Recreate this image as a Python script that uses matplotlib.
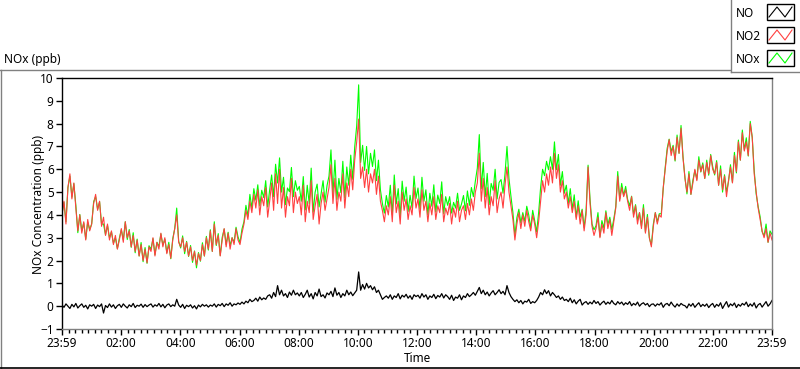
import matplotlib.pyplot as plt
import numpy as np
from matplotlib.lines import Line2D
from matplotlib.patches import Rectangle
from matplotlib.ticker import MultipleLocator

plt.rcParams['font.family'] = ['Noto Sans', 'DejaVu Sans']

# 4-minute readings starting 23:59, one row per hour (ppb)
no2 = [
    4.0, 4.6, 3.6, 5.2, 5.8, 4.7, 5.4, 4.3, 3.3, 4.0, 3.2, 3.7, 2.9, 3.8, 3.3,
    3.6, 4.5, 4.9, 4.2, 4.6, 3.5, 3.9, 3.1, 3.6, 2.9, 3.3, 2.7, 3.1, 2.5, 2.9,
    3.4, 2.8, 3.7, 3.0, 3.3, 2.6, 3.1, 2.4, 2.9, 2.2, 2.7, 2.0, 2.5, 1.9, 2.6,
    2.4, 3.0, 2.2, 2.8, 2.5, 3.2, 2.6, 3.0, 2.3, 2.7, 2.1, 2.9, 3.4, 4.0, 2.8,
    2.6, 3.0, 2.4, 2.8, 2.2, 2.6, 2.0, 2.4, 1.8, 2.3, 2.0, 2.7, 2.2, 3.0, 2.5,
    3.3, 2.4, 3.6, 2.7, 3.1, 2.2, 2.9, 3.4, 2.6, 3.2, 2.5, 3.0, 2.7, 3.4, 2.9,
    2.7, 3.2, 3.6, 4.2, 3.8, 4.6, 4.1, 4.9, 4.3, 5.1, 4.0, 4.8, 4.4, 5.2, 3.9,
    4.6, 5.4, 4.2, 5.8, 4.5, 6.0, 4.3, 5.2, 3.9, 4.8, 4.4, 5.6, 4.1, 5.0, 4.5,
    4.8, 4.0, 5.3, 3.7, 4.6, 4.1, 5.5, 3.8, 4.4, 4.9, 3.6, 4.5, 5.0, 4.2, 4.7,
    5.2, 6.2, 4.5, 5.6, 4.2, 5.0, 4.6, 5.8, 4.3, 5.4, 4.8, 6.0, 5.1, 6.4, 7.2,
    8.2, 5.6, 6.1, 5.2, 6.0, 5.0, 5.8, 5.4, 6.0, 4.9, 5.7, 4.6, 4.2, 3.7, 4.4,
    4.0, 4.8, 3.7, 5.3, 4.1, 4.6, 3.6, 5.0, 4.2, 4.7, 3.8, 4.4, 4.0, 5.2, 4.3,
    4.7, 3.9, 5.1, 4.2, 4.6, 3.7, 4.5, 4.0, 4.8, 3.8, 4.4, 4.1, 4.9, 3.7, 4.3,
    4.0, 4.5, 3.6, 4.3, 3.9, 4.6, 3.7, 4.2, 4.4, 3.8, 4.5, 4.0, 4.7, 4.2, 5.0,
    5.4, 6.7, 4.6, 5.6, 4.3, 5.2, 4.0, 4.8, 4.4, 5.5, 4.1, 4.7, 5.0, 4.3, 5.3,
    6.1, 5.0, 4.4, 3.8, 2.9, 3.6, 4.1, 3.4, 4.0, 3.5, 4.2, 3.7, 3.3, 4.0, 3.6,
    3.0, 3.7, 4.6, 5.5, 5.0, 5.8, 5.3, 6.1, 5.4, 6.7, 5.6, 6.2, 5.0, 5.5, 4.7,
    5.0, 4.3, 4.8, 4.1, 4.6, 3.8, 4.4, 3.6, 4.2, 3.3, 4.0, 6.1, 4.5, 3.5, 3.1,
    3.4, 3.9, 3.0, 3.6, 3.2, 4.1, 3.4, 3.8, 3.1, 3.7, 4.3, 5.7, 4.6, 5.2, 4.8,
    5.1, 4.6, 4.2, 4.8, 3.9, 4.4, 3.6, 4.1, 3.4, 4.3, 3.2, 3.9, 3.0, 2.6, 3.5,
    4.1, 3.6, 4.0, 3.9, 5.2, 6.0, 6.8, 7.3, 6.6, 7.0, 6.4, 7.4, 6.7, 7.8, 6.5,
    5.6, 5.0, 5.8, 4.9, 5.4, 6.0, 5.5, 6.4, 5.9, 6.2, 5.6, 6.3, 5.8, 6.6, 6.0,
    5.8, 6.3, 5.3, 6.0, 5.1, 5.7, 4.8, 5.5, 6.1, 5.4, 6.6, 5.9, 7.2, 6.4, 7.6,
    6.8, 7.2, 6.6, 8.0, 7.4, 5.8, 5.0, 4.3, 3.8, 3.3, 3.0, 3.4, 2.8, 3.2, 2.9,
]
no = [
    0.05, -0.05, 0.1, 0.0, -0.1, 0.08, -0.03, 0.12, -0.08, 0.02, 0.1, -0.05, 0.04, -0.12, 0.06,
    0.0, 0.08, -0.1, 0.05, -0.02, 0.1, -0.3, 0.03, -0.06, 0.1, -0.04, 0.06, -0.1, 0.02, 0.08,
    -0.05, 0.1, 0.0, -0.08, 0.06, -0.02, 0.12, -0.06, 0.04, 0.0, 0.09, -0.05, 0.07, -0.02, 0.05,
    0.1, -0.04, 0.06, 0.0, 0.12, -0.03, 0.08, -0.07, 0.05, 0.1, -0.02, 0.06, 0.0, 0.3, 0.05,
    -0.05, 0.08, -0.1, 0.04, -0.02, 0.06, -0.08, 0.02, -0.12, 0.05, -0.03, 0.08, 0.0, 0.06, -0.04,
    0.05, 0.0, 0.1, -0.04, 0.08, 0.02, 0.12, -0.02, 0.1, 0.04, 0.15, 0.0, 0.1, 0.06, 0.14,
    0.08, 0.18, 0.1, 0.22, 0.15, 0.3, 0.2, 0.25, 0.35, 0.22, 0.4, 0.28, 0.36, 0.3, 0.45,
    0.5, 0.35, 0.6, 0.42, 0.9, 0.5, 0.7, 0.45, 0.55, 0.38, 0.62, 0.48, 0.7, 0.5, 0.58,
    0.45, 0.6, 0.38, 0.52, 0.7, 0.4, 0.55, 0.32, 0.6, 0.45, 0.75, 0.42, 0.5, 0.36, 0.58,
    0.5, 0.65, 0.42, 0.8, 0.48, 0.6, 0.38, 0.55, 0.45, 0.7, 0.5, 0.62, 0.46, 0.58, 0.7,
    1.5, 0.7, 0.95, 0.75, 1.0, 0.8, 0.9, 0.72, 0.85, 0.6, 0.7, 0.5, 0.3, 0.38, 0.45,
    0.35, 0.5, 0.3, 0.45, 0.38, 0.55, 0.32, 0.48, 0.4, 0.52, 0.35, 0.46, 0.3, 0.5, 0.42,
    0.48, 0.35, 0.55, 0.4, 0.5, 0.3, 0.45, 0.38, 0.52, 0.33, 0.47, 0.4, 0.55, 0.36, 0.5,
    0.42, 0.3, 0.48, 0.25, 0.4, 0.35, 0.5, 0.28, 0.45, 0.38, 0.55, 0.42, 0.5, 0.6, 0.48,
    0.65, 0.82, 0.55, 0.7, 0.5, 0.62, 0.45, 0.58, 0.68, 0.5, 0.6, 0.72, 0.55, 0.65, 0.5,
    0.9, 0.6, 0.42, 0.3, 0.2, 0.28, 0.15, 0.25, 0.1, 0.22, 0.18, 0.3, 0.12, 0.2, 0.15,
    0.25, 0.4, 0.6, 0.5, 0.72, 0.55, 0.68, 0.45, 0.6, 0.5, 0.38, 0.45, 0.3, 0.4, 0.25,
    0.3, 0.2, 0.35, 0.15, 0.28, 0.1, 0.22, 0.3, 0.05, 0.15, 0.2, 0.08, 0.18, 0.1, 0.25,
    0.12, 0.2, 0.05, 0.15, 0.22, 0.08, 0.18, 0.1, 0.25, 0.12, 0.06, 0.2, 0.1, 0.18, 0.05,
    0.15, 0.08, 0.2, 0.02, 0.12, 0.05, 0.18, 0.0, 0.1, 0.15, 0.05, 0.12, -0.02, 0.08, 0.1,
    0.0, 0.1, 0.05, 0.15, -0.05, 0.08, 0.12, 0.02, 0.18, 0.05, -0.04, 0.1, 0.0, 0.12, 0.05,
    0.02, -0.08, 0.1, 0.0, 0.12, -0.05, 0.06, 0.15, -0.02, 0.08, 0.0, 0.1, -0.06, 0.05, 0.12,
    -0.05, 0.08, 0.0, 0.15, -0.1, 0.06, 0.2, -0.04, 0.1, 0.02, 0.14, -0.06, 0.08, 0.0, 0.12,
    0.05, 0.18, -0.02, 0.1, 0.0, 0.15, -0.08, 0.06, 0.12, -0.04, 0.08, 0.2, 0.0, 0.1, 0.25,
]
series_names = ['NO', 'NO2', 'NOx']
series_colors = ['black', '#ff4040', '#00ff00']
hour_labels = ['23:59', '02:00', '04:00', '06:00', '08:00', '10:00', '12:00',
               '14:00', '16:00', '18:00', '20:00', '22:00', '23:59']

no2 = np.array(no2)
no = np.array(no)
nox = no2 + no
t = np.linspace(0, 24, len(no2))

W, H = 800, 369
fs = 8.5
fig = plt.figure(figsize=(8, 3.69), dpi=100)
ax = fig.add_axes([62/W, 1-329/H, 710/W, 251/H])

ax.plot(t, nox, color=series_colors[2], lw=0.8)
ax.plot(t, no2, color=series_colors[1], lw=0.8)
ax.plot(t, no, color=series_colors[0], lw=0.9)

ax.set_xlim(0, 24)
ax.set_ylim(-1, 10)
ax.set_yticks(range(-1, 11))
ax.set_xticks(range(0, 25, 2))
ax.set_xticklabels(hour_labels)
ax.xaxis.set_minor_locator(MultipleLocator(2/9))
ax.tick_params(direction='out', length=4, width=1, labelsize=fs, pad=2, colors='black')
ax.tick_params(axis='x', which='minor', direction='out', length=3, width=1)
ax.spines['left'].set_color('black')
ax.spines['top'].set_color('black')
ax.spines['right'].set_color('#808080')
ax.spines['bottom'].set_color('#808080')
for s in ax.spines.values():
    s.set_linewidth(1)

fig.text(39/W, 1-205/H, 'NOx Concentration (ppb)', rotation=90, ha='center', va='center', fontsize=fs)
fig.text(417/W, 1-358/H, 'Time', ha='center', va='center', fontsize=fs)
fig.text(4/W, 1-59/H, 'NOx (ppb)', ha='left', va='center', fontsize=fs)

# outer frame
fig.add_artist(Line2D([0, 730/W], [1-69.5/H]*2, color='#808080', lw=1))
fig.add_artist(Line2D([1/W, 1/W], [0, 1-69.5/H], color='#808080', lw=1))
fig.add_artist(Line2D([0, 1], [1-368/H]*2, color='black', lw=1.2))

# legend box
fig.add_artist(Line2D([730.5/W, 730.5/W], [1-72/H, 1], color='#808080', lw=1))
fig.add_artist(Line2D([730.5/W, 1], [1-72/H]*2, color='#808080', lw=1))
for i, (name, col) in enumerate(zip(series_names, series_colors)):
    top = 4 + i*23
    fig.text(736/W, 1-(top+9.5)/H, name, ha='left', va='center', fontsize=fs)
    fig.add_artist(Rectangle((767/W, 1-(top+16)/H), 27/W, 16/H, facecolor='white',
                             edgecolor='black', lw=1))
    fig.add_artist(Line2D(np.array([769, 777, 785, 792])/W,
                          1-np.array([top+13, top+3, top+13, top+3])/H, color=col, lw=0.8))

fig.savefig('out.png', dpi=100)
